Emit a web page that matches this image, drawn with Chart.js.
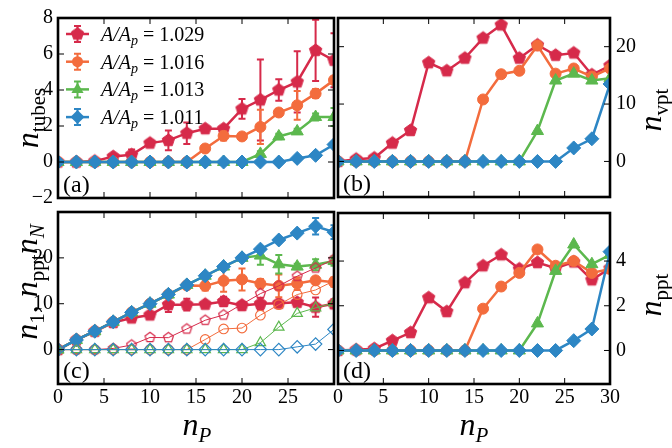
<!DOCTYPE html>
<html>
<head>
<meta charset="utf-8">
<script src="https://cdn.jsdelivr.net/npm/chart.js@4.4.1/dist/chart.umd.min.js"></script>
<style>
body { margin: 0; background: #fff; }
#fig { position: relative; width: 672px; height: 448px; overflow: hidden; }
#fig canvas { position: absolute; }
.lbl { position: absolute; font: 32px "Liberation Serif", "DejaVu Serif", serif; white-space: nowrap; line-height: 1; transform: translate(-50%, -50%); }
.rot { transform: translate(-50%, -50%) rotate(-90deg); }
.lbl sub { font-size: 21px; vertical-align: -7px; line-height: 0; }
</style>
</head>
<body>
<div id="fig">
  <canvas id="painelA" width="342" height="215" style="left:0;top:0"></canvas>
  <canvas id="painelB" width="342" height="215" style="left:330px;top:0"></canvas>
  <canvas id="painelC" width="342" height="253" style="left:0;top:195px"></canvas>
  <canvas id="painelD" width="342" height="253" style="left:330px;top:195px"></canvas>
  <div class="lbl rot" style="left:27px;top:118px"><i>n</i><sub>tubes</sub></div>
  <div class="lbl rot" style="left:26px;top:282px"><i>n</i><sub>1</sub>, <i>n</i><sub>ppt</sub><i>n</i><sub><i>N</i></sub></div>
  <div class="lbl rot" style="left:650px;top:110px"><i>n</i><sub>vpt</sub></div>
  <div class="lbl rot" style="left:650px;top:295px"><i>n</i><sub>ppt</sub></div>
  <div class="lbl" style="left:197px;top:424px"><i>n</i><sub><i>P</i></sub></div>
  <div class="lbl" style="left:474px;top:424px"><i>n</i><sub><i>P</i></sub></div>
</div>
<script>
// common x values
const nP = [0, 2, 4, 6, 8, 10, 12, 14, 16, 18, 20, 22, 24, 26, 28, 30];
const razoes = ['1.029', '1.016', '1.013', '1.011'];
const cores = ['#d62a4a', '#f36c3d', '#5cb84e', '#2d86c4'];

// tick values
const xMarcas = [0, 5, 10, 15, 20, 25, 30];
const xRotulosC = [0, 5, 10, 15, 20, 25];
const xRotulosD = [0, 5, 10, 15, 20, 25, 30];
const yTicksA = [-2, 0, 2, 4, 6, 8];
const yTicksB = [0, 10, 20];
const yTicksC = [0, 10, 20];
const yTicksD = [0, 2, 4];

// (a) n_tubes with errors
const tubes1029 = [0, 0, 0.05, 0.3, 0.4, 1.05, 1.2, 1.6, 1.85, 1.85, 2.95, 3.45, 4.0, 4.45, 6.2, 5.65];
const tubesErr1029 = [0, 0, 0.05, 0.15, 0.3, 0.15, 0.55, 0.6, 0.15, 0.15, 0.55, 2.25, 0.6, 1.7, 1.7, 1.5];
const tubes1016 = [0, 0, 0, 0, 0, 0, 0, 0, 0.75, 1.45, 1.42, 1.95, 2.75, 3.15, 3.8, 4.55];
const tubesErr1016 = [0, 0, 0, 0, 0, 0, 0, 0, 0.12, 0.25, 0.15, 0.95, 0.2, 0.8, 0.25, 0.2];
const tubes1013 = [0, 0, 0, 0, 0, 0, 0, 0, 0, 0, 0, 0.45, 1.42, 1.7, 2.5, 2.5];
const tubesErr1013 = [0, 0, 0, 0, 0, 0, 0, 0, 0, 0, 0, 0.15, 0.15, 0.15, 0.2, 0.5];
const tubes1011 = [0, 0, 0, 0, 0, 0, 0, 0, 0, 0, 0, 0, 0, 0.2, 0.37, 0.97];
const tubesErr1011 = [0, 0, 0, 0, 0, 0, 0, 0, 0, 0, 0, 0, 0, 0.08, 0.08, 0.1];

// (b) n_vpt
const vpt1029 = [0, 0.4, 0.6, 3.2, 5.4, 17.2, 15.8, 18.0, 21.5, 23.8, 18.0, 20.3, 18.5, 18.9, 15.1, 16.7];
const vpt1016 = [0, 0, 0, 0, 0, 0, 0, 0, 10.8, 15.2, 15.8, 20.2, 15.3, 16.2, 14.8, 16.2];
const vpt1013 = [0, 0, 0, 0, 0, 0, 0, 0, 0, 0, 0, 5.3, 14.1, 15.3, 14.1, 14.5];
const vpt1011 = [0, 0, 0, 0, 0, 0, 0, 0, 0, 0, 0, 0, 0, 2.35, 3.95, 13.5];

// (c) n_1 (filled, with errors) and n_N (open)
const n1_1029 = [0, 2.1, 4.0, 5.9, 6.9, 7.55, 9.8, 9.8, 9.9, 10.5, 9.6, 10.0, 10.1, 10.3, 9.25, 10.0];
const n1Err1029 = [0, 0, 0, 0.2, 0.6, 0.5, 1.6, 1.3, 0.3, 1.0, 0.8, 1.3, 0.3, 0.8, 2.1, 1.0];
const n1_1016 = [0, 2.1, 4.0, 6.05, 8.1, 10.0, 12.0, 14.0, 13.9, 15.0, 15.3, 14.4, 13.9, 14.4, 15.1, 14.7];
const n1Err1016 = [0, 0, 0, 0, 0, 0, 0, 0, 1.0, 2.4, 2.4, 1.0, 2.5, 1.4, 0.7, 1.0];
const n1_1013 = [0, 2.1, 4.0, 6.05, 8.1, 10.0, 12.0, 14.1, 16.1, 18.1, 20.0, 20.5, 18.6, 18.1, 18.5, 19.3];
const n1Err1013 = [0, 0, 0, 0, 0, 0, 0, 0, 0, 0, 0, 2.0, 2.0, 0.6, 1.2, 1.0];
const n1_1011 = [0, 2.1, 4.0, 6.05, 8.1, 10.0, 12.04, 14.1, 16.1, 18.1, 20.0, 21.9, 23.9, 25.4, 26.9, 25.6];
const n1Err1011 = [0, 0, 0, 0, 0, 0, 0, 0, 0, 0, 0, 0.3, 0, 0, 1.8, 1.5];
const nN_1029 = [0, 0, 0, 0.25, 1.0, 2.65, 2.6, 4.5, 6.4, 7.55, 9.9, 12.2, 13.9, 16.0, 17.8, 19.7];
const nN_1016 = [0, 0, 0, 0, 0, 0, 0, 0, 2.2, 4.5, 4.7, 7.5, 9.8, 12.0, 13.0, 15.0];
const nN_1013 = [0, 0, 0, 0, 0, 0, 0, 0, 0, 0, 0, 1.5, 4.9, 7.9, 9.1, 10.2];
const nN_1011 = [0, 0, 0, 0, 0, 0, 0, 0, 0, 0, 0, 0, 0, 0.6, 1.2, 4.4];

// (d) n_ppt
const ppt1029 = [0, 0.03, 0.08, 0.44, 0.8, 2.36, 1.74, 3.03, 3.79, 4.28, 3.65, 3.93, 3.68, 3.96, 3.16, 3.68];
const ppt1016 = [0, 0, 0, 0, 0, 0, 0, 0, 1.87, 2.86, 3.47, 4.52, 3.79, 4.0, 3.47, 3.65];
const ppt1013 = [0, 0, 0, 0, 0, 0, 0, 0, 0, 0, 0, 1.21, 3.56, 4.74, 3.86, 4.28];
const ppt1011 = [0, 0, 0, 0, 0, 0, 0, 0, 0, 0, 0, 0, 0, 0.44, 0.96, 4.42];

const SERIFA = '"Liberation Serif", "DejaVu Serif", serif';
Chart.defaults.font.family = SERIFA;
Chart.defaults.color = '#000';

// pentagon marker (no built-in pointStyle for it)
function pentagono(r, cheio, cor) {
    const s = Math.ceil(2 * r + 4);
    const c = document.createElement('canvas');
    c.width = s; c.height = s;
    const g = c.getContext('2d');
    g.beginPath();
    for (let k = 0; k < 5; k++) {
        const a = -Math.PI / 2 + k * 2 * Math.PI / 5;
        const px = s / 2 + r * Math.cos(a), py = s / 2 + r * Math.sin(a);
        if (k === 0) g.moveTo(px, py); else g.lineTo(px, py);
    }
    g.closePath();
    g.strokeStyle = cor;
    g.lineWidth = cheio ? 1 : 1.2;
    if (cheio) { g.fillStyle = cor; g.fill(); }
    g.stroke();
    return c;
}

const estilosCheios = [pentagono(6.5, true, cores[0]), 'circle', 'triangle', 'rectRot'];
const raiosCheios = [6.5, 5.5, 7, 7];
const estilosOcos = [pentagono(5.2, false, cores[0]), 'circle', 'triangle', 'rectRot'];
const raiosOcos = [5.5, 4.8, 6, 6.2];

function serie(valores, i, erros, oco, ordem) {
    return {
        data: nP.map((x, k) => ({ x: x, y: valores[k] })),
        erros: erros,
        borderColor: cores[i],
        backgroundColor: oco ? 'rgba(0,0,0,0)' : cores[i],
        pointBackgroundColor: oco ? 'rgba(0,0,0,0)' : cores[i],
        pointBorderColor: cores[i],
        borderWidth: oco ? 1 : 2.5,
        pointBorderWidth: oco ? 1.2 : 1,
        pointStyle: oco ? estilosOcos[i] : estilosCheios[i],
        pointRadius: oco ? raiosOcos[i] : raiosCheios[i],
        tension: 0,
        clip: 0,
        order: ordem
    };
}

// error bars drawn just under each series
const barrasErro = {
    id: 'barrasErro',
    beforeDatasetDraw(chart, args) {
        const ds = chart.data.datasets[args.index];
        if (!ds.erros) return;
        const ctx = chart.ctx, xs = chart.scales.x, ys = chart.scales.y, a = chart.chartArea;
        ctx.save();
        ctx.beginPath();
        ctx.rect(a.left, a.top, a.width, a.height);
        ctx.clip();
        ctx.strokeStyle = ds.borderColor;
        ctx.lineWidth = 2;
        ds.data.forEach((p, k) => {
            const e = ds.erros[k];
            if (!e) return;
            const x = xs.getPixelForValue(p.x);
            const y1 = ys.getPixelForValue(p.y + e), y2 = ys.getPixelForValue(p.y - e);
            ctx.beginPath();
            ctx.moveTo(x, y1); ctx.lineTo(x, y2);
            ctx.moveTo(x - 3.5, y1); ctx.lineTo(x + 3.5, y1);
            ctx.moveTo(x - 3.5, y2); ctx.lineTo(x + 3.5, y2);
            ctx.stroke();
        });
        ctx.restore();
    }
};

// thick frame, inward ticks and panel letter
const moldura = {
    id: 'moldura',
    afterDraw(chart, args, opts) {
        const ctx = chart.ctx, a = chart.chartArea, sx = chart.scales.x, sy = chart.scales.y;
        ctx.save();
        ctx.strokeStyle = '#000';
        ctx.lineWidth = 1;
        ctx.beginPath();
        xMarcas.forEach(v => {
            const x = sx.getPixelForValue(v);
            ctx.moveTo(x, a.bottom); ctx.lineTo(x, a.bottom - 6);
            ctx.moveTo(x, a.top); ctx.lineTo(x, a.top + 6);
        });
        opts.yMarcas.forEach(v => {
            const y = sy.getPixelForValue(v);
            ctx.moveTo(a.left, y); ctx.lineTo(a.left + 6, y);
            ctx.moveTo(a.right, y); ctx.lineTo(a.right - 6, y);
        });
        ctx.stroke();
        ctx.lineWidth = 2.6;
        ctx.strokeRect(a.left, a.top, a.width, a.height);
        ctx.fillStyle = '#000';
        ctx.font = '24px ' + SERIFA;
        ctx.textBaseline = 'alphabetic';
        ctx.fillText(opts.letra, a.left + 5, a.bottom - 6);
        ctx.restore();
    }
};

// legend inside panel (a)
const legenda = {
    id: 'legenda',
    afterDatasetsDraw(chart) {
        const ctx = chart.ctx;
        razoes.forEach((r, i) => {
            const y = 34 + 27.7 * i;
            ctx.save();
            ctx.strokeStyle = cores[i];
            ctx.lineWidth = 2.5;
            ctx.beginPath(); ctx.moveTo(66, y); ctx.lineTo(89, y); ctx.stroke();
            ctx.lineWidth = 2;
            ctx.beginPath();
            ctx.moveTo(77.5, y - 8); ctx.lineTo(77.5, y + 8);
            ctx.moveTo(74, y - 8); ctx.lineTo(81, y - 8);
            ctx.moveTo(74, y + 8); ctx.lineTo(81, y + 8);
            ctx.stroke();
            ctx.fillStyle = cores[i];
            Chart.helpers.drawPoint(ctx, { pointStyle: estilosCheios[i], radius: raiosCheios[i], rotation: 0, borderWidth: 0 }, 77.5, y);
            ctx.fillStyle = '#000';
            ctx.textBaseline = 'alphabetic';
            let x = 101;
            ctx.font = 'italic 20px ' + SERIFA;
            ctx.fillText('A/A', x, y + 7);
            x += ctx.measureText('A/A').width;
            ctx.font = 'italic 14px ' + SERIFA;
            ctx.fillText('p', x, y + 11);
            x += ctx.measureText('p').width;
            ctx.font = '20px ' + SERIFA;
            ctx.fillText(' = ' + r, x, y + 7);
            ctx.restore();
        });
    }
};

function criarPainel(id, p) {
    new Chart(document.getElementById(id), {
        type: 'line',
        data: { datasets: p.series },
        plugins: [barrasErro, moldura].concat(p.extra || []),
        options: {
            responsive: false,
            animation: false,
            events: [],
            layout: { padding: p.padding },
            plugins: {
                legend: { display: false },
                tooltip: { enabled: false },
                moldura: { letra: p.letra, yMarcas: p.yTicks }
            },
            scales: {
                x: {
                    type: 'linear', min: 0, max: 30,
                    display: !!p.xRotulos,
                    grid: { display: false, drawTicks: false },
                    border: { display: false },
                    ticks: { font: { family: SERIFA, size: 20 }, padding: 2, maxRotation: 0 },
                    afterBuildTicks: s => { s.ticks = (p.xRotulos || []).map(v => ({ value: v })); },
                    afterFit: s => { if (p.xRotulos) s.height = 64; }
                },
                y: {
                    type: 'linear', min: p.yMin, max: p.yMax,
                    position: p.lado,
                    grid: { display: false, drawTicks: false },
                    border: { display: false },
                    ticks: {
                        font: { family: SERIFA, size: 20 },
                        padding: p.lado === 'left' ? 5 : 6,
                        callback: v => String(v).replace('-', '\u2212')
                    },
                    afterBuildTicks: s => { s.ticks = p.yTicks.map(v => ({ value: v })); },
                    afterFit: s => { s.width = p.lado === 'left' ? 58 : 62; }
                }
            }
        }
    });
}

function desenharTudo() {
    criarPainel('painelA', {
        series: [
            serie(tubes1011, 3, tubesErr1011, false, 1),
            serie(tubes1013, 2, tubesErr1013, false, 2),
            serie(tubes1016, 1, tubesErr1016, false, 3),
            serie(tubes1029, 0, tubesErr1029, false, 4)
        ],
        yMin: -2, yMax: 8, yTicks: yTicksA, lado: 'left', letra: '(a)',
        padding: { top: 18, left: 0, right: 8, bottom: 15 },
        extra: [legenda]
    });
    criarPainel('painelB', {
        series: [
            serie(vpt1011, 3, null, false, 1),
            serie(vpt1013, 2, null, false, 2),
            serie(vpt1016, 1, null, false, 3),
            serie(vpt1029, 0, null, false, 4)
        ],
        yMin: -6.2, yMax: 25, yTicks: yTicksB, lado: 'right', letra: '(b)',
        padding: { top: 18, left: 4, right: 0, bottom: 15 }
    });
    criarPainel('painelC', {
        series: [
            serie(nN_1011, 3, null, true, 0),
            serie(nN_1013, 2, null, true, 0),
            serie(nN_1016, 1, null, true, 0),
            serie(nN_1029, 0, null, true, 0),
            serie(n1_1011, 3, n1Err1011, false, 1),
            serie(n1_1013, 2, n1Err1013, false, 2),
            serie(n1_1016, 1, n1Err1016, false, 3),
            serie(n1_1029, 0, n1Err1029, false, 4)
        ],
        yMin: -7.5, yMax: 30, yTicks: yTicksC, lado: 'left', letra: '(c)', xRotulos: xRotulosC,
        padding: { top: 5, left: 0, right: 8, bottom: 0 }
    });
    criarPainel('painelD', {
        series: [
            serie(ppt1011, 3, null, false, 1),
            serie(ppt1013, 2, null, false, 2),
            serie(ppt1016, 1, null, false, 3),
            serie(ppt1029, 0, null, false, 4)
        ],
        yMin: -1.5, yMax: 6.15, yTicks: yTicksD, lado: 'right', letra: '(d)', xRotulos: xRotulosD,
        padding: { top: 5, left: 4, right: 0, bottom: 0 }
    });
}

// wait for the serif faces before drawing on the canvases
document.addEventListener('DOMContentLoaded', () => {
    Promise.all([
        document.fonts.load('20px "Liberation Serif"'),
        document.fonts.load('italic 20px "Liberation Serif"')
    ]).catch(() => {}).then(desenharTudo);
});
</script>
</body>
</html>
